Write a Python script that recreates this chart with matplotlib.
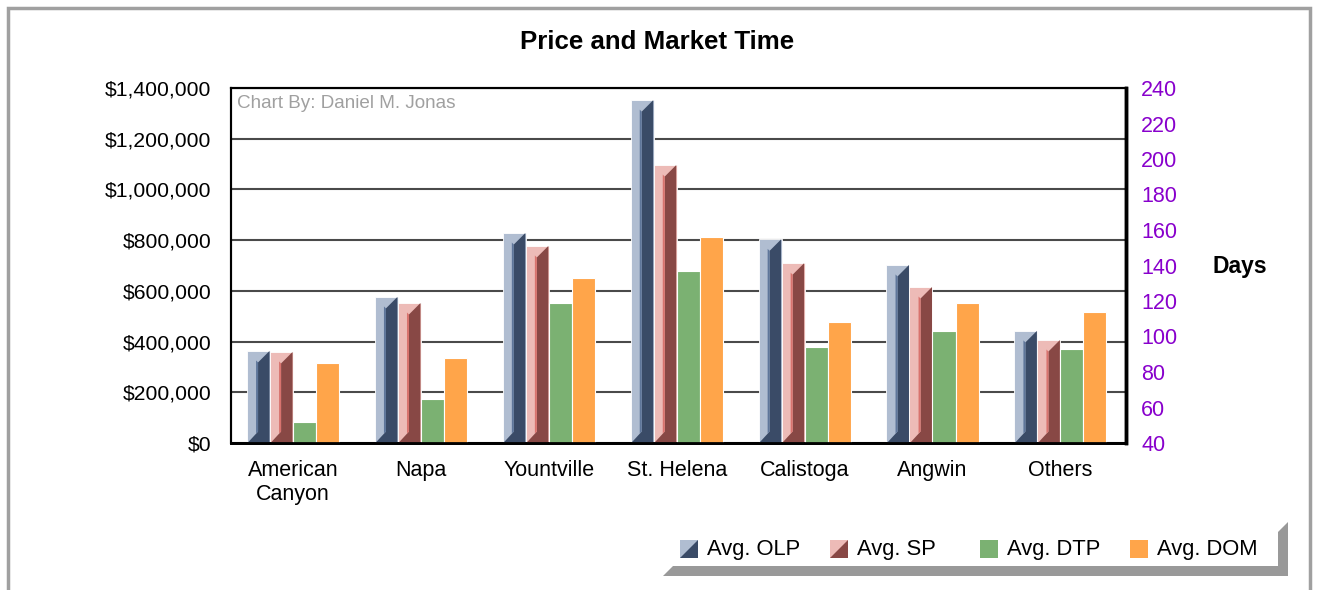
import matplotlib
matplotlib.use('Agg')
import matplotlib.pyplot as plt
from matplotlib.patches import Polygon, Rectangle
from matplotlib.ticker import FuncFormatter
import numpy as np

plt.rcParams['font.family'] = ['Liberation Sans', 'DejaVu Sans']

# ---- data ----
categories = ['American\nCanyon', 'Napa', 'Yountville', 'St. Helena', 'Calistoga', 'Angwin', 'Others']
avg_olp = [363000, 576000, 828000, 1352000, 803000, 702000, 442000]
avg_sp = [359000, 552000, 777000, 1096000, 709000, 615000, 406000]
avg_dtp = [52, 65, 119, 137, 94, 103, 93]
avg_dom = [85, 88, 133, 156, 108, 119, 114]
series_names = ['Avg. OLP', 'Avg. SP', 'Avg. DTP', 'Avg. DOM']
price_ticks = list(range(0, 1400001, 200000))
day_ticks = list(range(40, 241, 20))

# ---- style ----
OLP_LIGHT, OLP_DARK, OLP_STRIPE = '#B0BDD1', '#3A4B67', '#5F769A'
SP_LIGHT, SP_DARK, SP_STRIPE = '#EDBBB7', '#884845', '#D8736E'
DTP_C = '#7BB172'
DOM_C = '#FFA54A'
PURPLE = '#8800CC'

W, H = 1317, 590
fig = plt.figure(figsize=(W / 100, H / 100), dpi=100)


def fx(px):
    return px / W


def fy(py):
    return 1 - py / H


ax = fig.add_axes([fx(231), fy(443), fx(1126) - fx(231), fy(88) - fy(443)])
ax2 = ax.twinx()

x = np.arange(len(categories))
w = 0.18
ax.set_xlim(-0.485, 6.513)
ax.set_ylim(price_ticks[0], price_ticks[-1])
ax2.set_ylim(day_ticks[0], day_ticks[-1])
ax.set_yticks(price_ticks)
ax.yaxis.set_major_formatter(FuncFormatter(lambda v, p: f'${v:,.0f}'))
ax2.set_yticks(day_ticks)
ax.grid(axis='y', color='#4A4A4A', lw=1.5)
ax.set_axisbelow(True)

b_olp = ax.bar(x - 1.5 * w, avg_olp, w, color=OLP_LIGHT, edgecolor='white', lw=0.6, zorder=2)
b_sp = ax.bar(x - 0.5 * w, avg_sp, w, color=SP_LIGHT, edgecolor='white', lw=0.6, zorder=2)
ax2.bar(x + 0.5 * w, avg_dtp, w, color=DTP_C, edgecolor='white', lw=0.8, zorder=2)
ax2.bar(x + 1.5 * w, avg_dom, w, color=DOM_C, edgecolor='white', lw=0.8, zorder=2)


def bevel(axis, bars, dark, stripe):
    inv = axis.transData.inverted()
    for b in bars:
        L = b.get_x()
        R = L + b.get_width()
        T = b.get_height()
        pL, pB = axis.transData.transform((L, 0))
        pR, pT = axis.transData.transform((R, T))
        pL += 0.5
        pR -= 0.5
        pM = pL + 0.48 * (pR - pL)
        d = pR - pM
        pts = inv.transform([(pL, pB), (pM, pB + d), (pM, pT - d), (pR, pT), (pR, pB)])
        axis.add_patch(Polygon(pts, closed=True, facecolor=dark, edgecolor='none', zorder=3))
        spts = inv.transform([(pM - 2, pB + d - 2), (pM, pB + d), (pM, pT - d), (pM - 2, pT - d + 2)])
        axis.add_patch(Polygon(spts, closed=True, facecolor=stripe, edgecolor='none', zorder=3))


bevel(ax, b_olp, OLP_DARK, OLP_STRIPE)
bevel(ax, b_sp, SP_DARK, SP_STRIPE)

ax.set_xticks(x)
ax.set_xticklabels(categories)
ax.tick_params(axis='x', length=0, pad=12, labelsize=15.5)
ax.tick_params(axis='y', length=0, pad=14, labelsize=15.2)
ax2.tick_params(axis='y', length=0, pad=11, labelsize=15.5, labelcolor=PURPLE)

for a in (ax, ax2):
    for s in a.spines.values():
        s.set_color('black')
        s.set_linewidth(1.5)
    a.spines['bottom'].set_linewidth(2)
    a.spines['right'].set_linewidth(2.5)

# texts
fig.text(fx(657), fy(42), 'Price and Market Time', ha='center', va='center',
         fontsize=18.6, fontweight='bold')
fig.text(fx(1240), fy(266), 'Days', ha='center', va='center', fontsize=16.5, fontweight='bold')
fig.text(fx(237), fy(104), 'Chart By: Daniel M. Jonas', ha='left', va='center',
         fontsize=13.6, color='#A0A0A0')

# outer border
fig.add_artist(Rectangle((fx(8), fy(620)), fx(1310) - fx(8), fy(8) - fy(620),
                         transform=fig.transFigure, fill=False, edgecolor='#A0A0A0', lw=2.5))

# legend box shadow
shadow = [(663, 576), (673, 566), (1278, 566), (1278, 532), (1288, 522), (1288, 576)]
fig.add_artist(Polygon([(fx(a), fy(b)) for a, b in shadow], closed=True,
                       transform=fig.transFigure, facecolor='#999999', edgecolor='none'))

legend_styles = [(OLP_LIGHT, OLP_DARK, OLP_STRIPE), (SP_LIGHT, SP_DARK, SP_STRIPE),
                 (DTP_C, None, None), (DOM_C, None, None)]
for i, (name, (light, dark, stripe)) in enumerate(zip(series_names, legend_styles)):
    x0 = 680 + 150 * i
    y0, s = 540, 18
    fig.add_artist(Rectangle((fx(x0), fy(y0 + s)), fx(s), fy(0) - fy(s),
                             transform=fig.transFigure, facecolor=light, edgecolor='none'))
    if dark is not None:
        M = x0 + 0.5 * s
        d = x0 + s - M
        pts = [(x0, y0 + s), (M, y0 + s - d), (M, y0 + d), (x0 + s, y0), (x0 + s, y0 + s)]
        fig.add_artist(Polygon([(fx(a), fy(b)) for a, b in pts], closed=True,
                               transform=fig.transFigure, facecolor=dark, edgecolor='none'))
    fig.text(fx(x0 + 27), fy(y0 + s / 2), name, ha='left', va='center', fontsize=15.8)

fig.savefig('out.png', dpi=100, facecolor='white')
